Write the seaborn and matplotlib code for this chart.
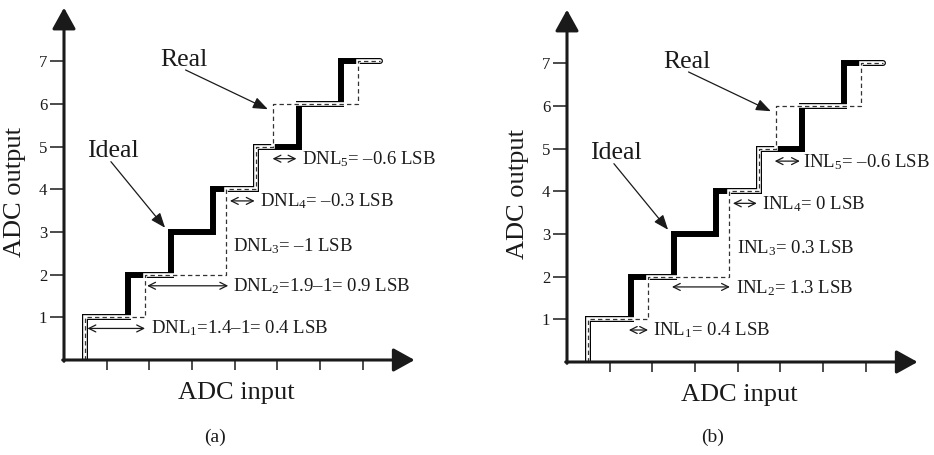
import matplotlib.pyplot as plt
import seaborn as sns

# ---------------------- data ---------------------- #
tick_pos = [1, 2, 3, 4, 5, 6, 7]

# step corners (steps-post): transition input -> output code
ideal_x = [0.5, 0.5, 1.5, 2.5, 3.5, 4.5, 5.5, 6.5, 7.4]
ideal_y = [0, 1, 2, 3, 4, 5, 6, 7, 7]
real_x = [0.5, 0.5, 1.9, 3.8, 3.8, 4.5, 4.9, 6.9, 7.4]
real_y = [0, 1, 2, 3, 4, 5, 6, 7, 7]

# annotation arrows (start, end, level) and texts (x, baseline, label)
dnl_spans = [(0.55, 1.90, 0.74), (1.95, 3.85, 1.74), (3.89, 4.47, 3.73), (4.89, 5.45, 4.72)]
dnl_texts = [(2.05, 0.63, 'DNL$_1$=1.4–1= 0.4 LSB'),
             (3.97, 1.60, 'DNL$_2$=1.9–1= 0.9 LSB'),
             (3.97, 2.54, 'DNL$_3$= –1 LSB'),
             (4.59, 3.60, 'DNL$_4$= –0.3 LSB'),
             (5.57, 4.58, 'DNL$_5$= –0.6 LSB')]
inl_spans = [(1.45, 1.90, 0.75), (2.46, 3.82, 1.76), (3.89, 4.45, 3.72), (4.87, 5.46, 4.71)]
inl_texts = [(2.01, 0.63, 'INL$_1$= 0.4 LSB'),
             (3.96, 1.61, 'INL$_2$= 1.3 LSB'),
             (3.98, 2.55, 'INL$_3$= 0.3 LSB'),
             (4.57, 3.58, 'INL$_4$= 0 LSB'),
             (5.53, 4.57, 'INL$_5$= –0.6 LSB')]

real_label = (2.25, 6.90, 'Real', (2.85, 6.80), (4.78, 5.88))
ideal_label = (0.53, 4.75, 'Ideal', (1.10, 4.65), (2.37, 3.10))

panels = [
    dict(rect=[64 / 934, (455 - 360) / 455, 354 / 934, 354 / 455], spans=dnl_spans, texts=dnl_texts, tag='(a)', tag_x=215),
    dict(rect=[567 / 934, (455 - 362) / 455, 354 / 934, 354 / 455], spans=inl_spans, texts=inl_texts, tag='(b)', tag_x=713),
]

# ---------------------- style ---------------------- #
sns.set_theme(style='white')
plt.rcParams['font.family'] = ['Liberation Serif', 'DejaVu Serif']
plt.rcParams['mathtext.fontset'] = 'custom'
plt.rcParams['mathtext.rm'] = 'Liberation Serif'
plt.rcParams['mathtext.it'] = 'Liberation Serif'
plt.rcParams['mathtext.default'] = 'regular'

ink = '#1a1a1a'
fig = plt.figure(figsize=(9.34, 4.55), dpi=100)

for p in panels:
    ax = fig.add_axes(p['rect'])
    ax.set_xlim(0, 8.3)
    ax.set_ylim(0, 8.3)
    for s in ax.spines.values():
        s.set_visible(False)

    # ideal staircase (thick) and real staircase (double / dashed)
    sns.lineplot(x=ideal_x, y=ideal_y, estimator=None, sort=False, drawstyle='steps-post',
                 color='black', lw=4.3, solid_joinstyle='miter', ax=ax, zorder=2)
    sns.lineplot(x=real_x, y=real_y, estimator=None, sort=False, drawstyle='steps-post',
                 color='white', lw=2.6, solid_joinstyle='miter', ax=ax, zorder=3)
    sns.lineplot(x=real_x, y=real_y, estimator=None, sort=False, drawstyle='steps-post',
                 color='#333333', lw=0.9, linestyle=(0, (3.5, 2.5)), ax=ax, zorder=4)

    # axes with arrow heads
    axis_style = dict(arrowstyle='-|>,head_length=0.65,head_width=0.36', lw=2.2,
                      color=ink, mutation_scale=20, shrinkA=0, shrinkB=0)
    ax.annotate('', xy=(8.22, 0), xytext=(-0.03, 0), arrowprops=axis_style,
                annotation_clip=False, zorder=6)
    ax.annotate('', xy=(0, 8.26), xytext=(0, -0.03), arrowprops=axis_style,
                annotation_clip=False, zorder=6)

    ax.set_xticks(tick_pos)
    ax.set_xticklabels([])
    ax.set_yticks(tick_pos)
    ax.tick_params(axis='x', length=7, width=1.1, direction='out', color=ink, bottom=True)
    ax.tick_params(axis='y', length=10, width=1.1, direction='out', color=ink, left=True,
                   labelsize=12, pad=2, labelcolor=ink)

    ax.set_xlabel('ADC input', fontsize=19, color=ink)
    ax.set_ylabel('ADC output', fontsize=19, color=ink)
    ax.xaxis.set_label_coords(0.487, -0.062)
    ax.yaxis.set_label_coords(-0.108, 0.475)

    # error arrows and texts
    for x0, x1, yv in p['spans']:
        ax.annotate('', xy=(x1, yv), xytext=(x0, yv),
                    arrowprops=dict(arrowstyle='<->,head_length=0.5,head_width=0.25', lw=0.9,
                                    color=ink, mutation_scale=10, shrinkA=0, shrinkB=0))
    for tx, ty, txt in p['texts']:
        ax.text(tx, ty, txt, fontsize=13.5, color=ink, ha='left', va='baseline')

    for tx, ty, txt, a0, a1 in [real_label, ideal_label]:
        ax.text(tx, ty, txt, fontsize=18.5, color=ink, ha='left', va='baseline')
        ax.annotate('', xy=a1, xytext=a0,
                    arrowprops=dict(arrowstyle='-|>,head_length=0.9,head_width=0.35', lw=0.9,
                                    color=ink, mutation_scale=10, shrinkA=0, shrinkB=0))

    fig.text(p['tag_x'] / 934, (455 - 437) / 455, p['tag'], fontsize=14, color=ink,
             ha='center', va='center')

fig.savefig('out.png', dpi=100)
